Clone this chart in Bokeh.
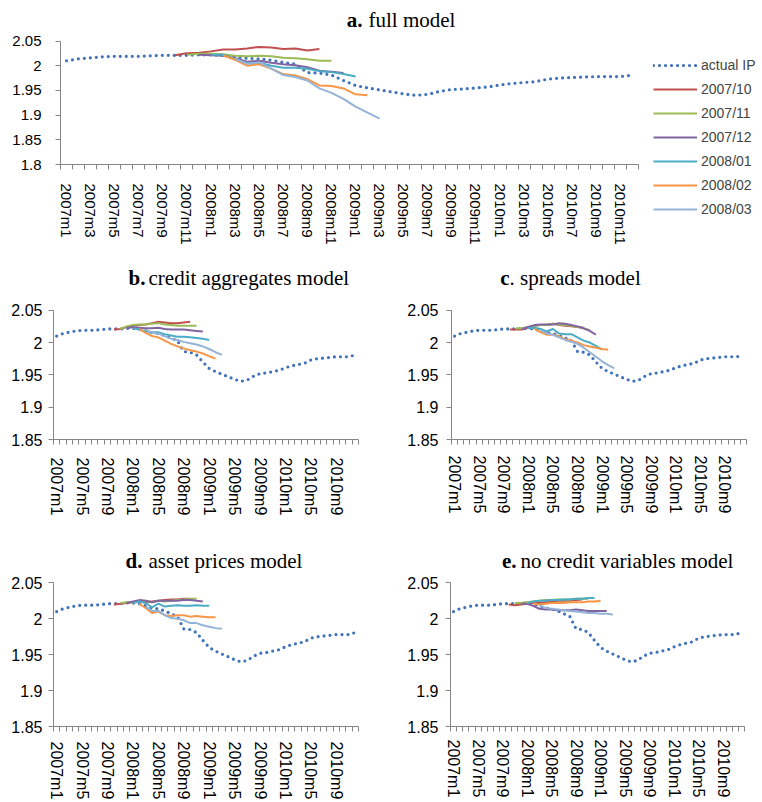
from bokeh.plotting import figure
from bokeh.models import Range1d, FixedTicker, CustomJSTickFormatter, Label, Legend, LegendItem
from bokeh.layouts import column, row
from bokeh.embed import file_html
from bokeh.resources import INLINE

# ---------------- data ----------------
YEARS = [2007, 2008, 2009, 2010]
MONTHS = [f"{y}m{m}" for y in YEARS for m in range(1, 13)]

ACTUAL_IP = [
    2.010, 2.014, 2.016, 2.018, 2.019, 2.019, 2.019, 2.020, 2.021, 2.021, 2.021, 2.022,
    2.022, 2.021, 2.018, 2.015, 2.014, 2.011, 2.007, 2.003, 1.986, 1.985, 1.981, 1.970,
    1.960, 1.955, 1.951, 1.947, 1.943, 1.940, 1.942, 1.948, 1.952, 1.953, 1.955, 1.957,
    1.961, 1.964, 1.966, 1.968, 1.973, 1.975, 1.976, 1.977, 1.978, 1.978, 1.978, 1.981,
]

VINTAGES = ["2007/10", "2007/11", "2007/12", "2008/01", "2008/02", "2008/03"]
VINTAGE_START = ["2007m10", "2007m11", "2007m12", "2008m1", "2008m2", "2008m3"]
COLORS = ["#C0504D", "#9BBB59", "#8064A2", "#4BACC6", "#F79646", "#95B3D7"]
IP_COLOR = "#3F72B8"

FULL_MODEL = [
    [2.021, 2.025, 2.026, 2.029, 2.033, 2.033, 2.035, 2.038, 2.037, 2.034, 2.035, 2.031, 2.034],
    [2.022, 2.024, 2.024, 2.023, 2.020, 2.019, 2.020, 2.019, 2.016, 2.015, 2.013, 2.010, 2.010],
    [2.022, 2.021, 2.020, 2.015, 2.008, 2.010, 2.006, 2.003, 2.001, 1.997, 1.990, 1.988, 1.985],
    [2.022, 2.022, 2.013, 2.005, 2.006, 2.000, 1.996, 1.996, 1.994, 1.989, 1.987, 1.983, 1.978],
    [2.021, 2.012, 2.000, 2.003, 1.994, 1.983, 1.980, 1.973, 1.960, 1.959, 1.954, 1.942, 1.940],
    [2.014, 2.004, 2.007, 1.994, 1.981, 1.977, 1.970, 1.954, 1.945, 1.933, 1.917, 1.905, 1.893],
]
CREDIT_MODEL = [
    [2.020, 2.021, 2.024, 2.026, 2.027, 2.028, 2.030, 2.032, 2.031, 2.030, 2.030, 2.031, 2.032],
    [2.021, 2.025, 2.027, 2.028, 2.028, 2.029, 2.030, 2.028, 2.027, 2.026, 2.026, 2.026, 2.026],
    [2.022, 2.024, 2.023, 2.022, 2.022, 2.023, 2.021, 2.020, 2.020, 2.020, 2.019, 2.018, 2.017],
    [2.022, 2.020, 2.017, 2.016, 2.016, 2.013, 2.011, 2.009, 2.009, 2.008, 2.007, 2.006, 2.004],
    [2.021, 2.015, 2.010, 2.008, 2.003, 1.998, 1.994, 1.991, 1.988, 1.986, 1.983, 1.979, 1.975],
    [2.020, 2.015, 2.014, 2.010, 2.006, 2.004, 2.001, 1.999, 1.997, 1.994, 1.990, 1.985, 1.981],
]
SPREADS_MODEL = [
    [2.020, 2.020, 2.020, 2.023, 2.026, 2.027, 2.027, 2.029, 2.027, 2.026, 2.025, 2.024, 2.023],
    [2.022, 2.022, 2.024, 2.026, 2.027, 2.027, 2.029, 2.028, 2.027, 2.026, 2.024, 2.022, 2.019],
    [2.021, 2.024, 2.027, 2.028, 2.028, 2.028, 2.030, 2.029, 2.027, 2.025, 2.022, 2.018, 2.012],
    [2.022, 2.023, 2.021, 2.017, 2.021, 2.014, 2.013, 2.013, 2.008, 2.003, 2.000, 1.995, 1.989],
    [2.021, 2.016, 2.012, 2.012, 2.010, 2.005, 2.003, 2.000, 1.996, 1.994, 1.992, 1.990, 1.989],
    [2.019, 2.014, 2.012, 2.008, 2.004, 2.001, 1.998, 1.992, 1.985, 1.978, 1.971, 1.965, 1.960],
]
ASSET_MODEL = [
    [2.020, 2.021, 2.022, 2.023, 2.024, 2.023, 2.024, 2.025, 2.026, 2.027, 2.027, 2.028, 2.028],
    [2.022, 2.023, 2.023, 2.025, 2.025, 2.023, 2.025, 2.024, 2.025, 2.026, 2.027, 2.028, 2.028],
    [2.022, 2.024, 2.026, 2.025, 2.023, 2.025, 2.025, 2.025, 2.025, 2.026, 2.026, 2.025, 2.024],
    [2.022, 2.024, 2.022, 2.016, 2.021, 2.017, 2.018, 2.019, 2.018, 2.018, 2.019, 2.018, 2.018],
    [2.021, 2.015, 2.008, 2.010, 2.005, 2.004, 2.005, 2.005, 2.003, 2.004, 2.003, 2.002, 2.002],
    [2.017, 2.011, 2.011, 2.005, 2.001, 2.000, 1.998, 1.994, 1.994, 1.991, 1.989, 1.987, 1.986],
]
NOCREDIT_MODEL = [
    [2.020, 2.019, 2.020, 2.021, 2.022, 2.022, 2.023, 2.024, 2.025, 2.025, 2.025, 2.026, 2.027],
    [2.022, 2.022, 2.023, 2.024, 2.025, 2.026, 2.026, 2.027, 2.027, 2.027, 2.028, 2.028, 2.028],
    [2.021, 2.021, 2.018, 2.014, 2.013, 2.013, 2.012, 2.012, 2.012, 2.013, 2.012, 2.011, 2.011, 2.011, 2.011],
    [2.022, 2.024, 2.025, 2.025, 2.026, 2.026, 2.027, 2.027, 2.028, 2.028, 2.029, 2.029],
    [2.021, 2.020, 2.021, 2.022, 2.022, 2.022, 2.023, 2.023, 2.023, 2.024, 2.024, 2.025],
    [2.019, 2.015, 2.014, 2.013, 2.012, 2.011, 2.010, 2.009, 2.008, 2.008, 2.007, 2.007, 2.006],
]

Y_TICKS_A = [1.8, 1.85, 1.9, 1.95, 2.0, 2.05]
Y_TICKS_B = [1.85, 1.9, 1.95, 2.0, 2.05]

AXIS_COLOR = "#868686"
TICK_FONT = "Liberation Sans"
TITLE_FONT = "Liberation Serif"


def make_panel(series, width, height, left, right, bottom, axis_px, top_pad,
               yticks, label_step, tick_size, x_standoff, y_standoff, title):
    ymin, ymax = yticks[0], yticks[-1]
    # frame reaches the top of the figure; the room above the axis holds the title
    y_end = ymax + top_pad * (ymax - ymin) / axis_px
    p = figure(width=width, height=height, output_backend="svg", toolbar_location=None,
               x_range=Range1d(-0.5, len(MONTHS) - 0.5),
               y_range=Range1d(ymin, y_end),
               min_border_left=left, min_border_right=right,
               min_border_top=0, min_border_bottom=bottom)
    p.outline_line_color = None
    p.xgrid.visible = False
    p.ygrid.visible = False
    p.background_fill_color = "white"
    p.border_fill_color = "white"

    xs = list(range(len(MONTHS)))
    p.line(xs, ACTUAL_IP, line_color=IP_COLOR, line_width=3.2,
           line_dash="0 6", line_cap="round")
    for start, vals, col in zip(VINTAGE_START, series, COLORS):
        s = MONTHS.index(start)
        p.line(list(range(s, s + len(vals))), vals, line_color=col,
               line_width=2, line_join="round")

    xa = p.xaxis[0]
    xa.ticker = FixedTicker(ticks=list(range(0, len(MONTHS), label_step)),
                            minor_ticks=[i - 0.5 for i in range(len(MONTHS) + 1)])
    xa.formatter = CustomJSTickFormatter(args=dict(months=MONTHS),
                                         code="return months[Math.round(tick)] || '';")
    xa.axis_line_color = AXIS_COLOR
    xa.major_tick_line_color = None
    xa.major_tick_out = 0
    xa.major_tick_in = 0
    xa.minor_tick_line_color = AXIS_COLOR
    xa.minor_tick_out = 5
    xa.minor_tick_in = 0
    xa.major_label_orientation = "vertical"
    xa.major_label_standoff = x_standoff
    xa.major_label_text_font = TICK_FONT
    xa.major_label_text_font_size = tick_size
    xa.major_label_text_color = "black"

    ya = p.yaxis[0]
    ya.bounds = (ymin, ymax)
    ya.ticker = FixedTicker(ticks=yticks)
    ya.formatter = CustomJSTickFormatter(code="return String(Number(tick.toFixed(2)));")
    ya.axis_line_color = AXIS_COLOR
    ya.major_tick_line_color = AXIS_COLOR
    ya.major_tick_out = 5
    ya.major_tick_in = 0
    ya.minor_tick_line_color = None
    ya.major_label_standoff = y_standoff
    ya.major_label_text_font = TICK_FONT
    ya.major_label_text_font_size = tick_size
    ya.major_label_text_color = "black"

    bold, rest, bold_x, rest_x, base_y = title
    p.add_layout(Label(x=bold_x, y=base_y, x_units="screen", y_units="screen", text=bold,
                       text_font=TITLE_FONT, text_font_style="bold", text_font_size="21px",
                       text_align="right", text_baseline="alphabetic", text_color="black"))
    p.add_layout(Label(x=rest_x, y=base_y, x_units="screen", y_units="screen", text=rest,
                       text_font=TITLE_FONT, text_font_size="21px",
                       text_align="left", text_baseline="alphabetic", text_color="black"))
    return p


def legend_fig(width, height, loc):
    p = figure(width=width, height=height, output_backend="svg", toolbar_location=None,
               x_range=Range1d(0, 1), y_range=Range1d(0, 1),
               x_axis_type=None, y_axis_type=None,
               min_border_left=0, min_border_right=0, min_border_top=0, min_border_bottom=0)
    p.outline_line_color = None
    p.xgrid.visible = False
    p.ygrid.visible = False
    p.background_fill_color = "white"
    p.border_fill_color = "white"
    far = [10, 11]
    ip = p.line(far, far, line_color=IP_COLOR, line_width=3.2, line_dash="0 6",
                line_cap="round")
    items = [LegendItem(label="actual IP", renderers=[ip])]
    for v, col in zip(VINTAGES, COLORS):
        r = p.line(far, far, line_color=col, line_width=2)
        items.append(LegendItem(label=v, renderers=[r]))
    lg = Legend(items=items, location=loc, glyph_width=44, glyph_height=20,
                spacing=4, padding=0, margin=0, label_standoff=4,
                label_text_font=TICK_FONT, label_text_font_size="14px",
                border_line_color=None, background_fill_alpha=0)
    p.add_layout(lg)
    return p


# ---------------- panel a ----------------
pa = make_panel(FULL_MODEL, 640, 247, 60, 2, 81, 125, 41,
                Y_TICKS_A, 2, "15px", 14, 14,
                ("a.", "full model", 302, 308, 145))
la = legend_fig(122, 247, (13, 28))

# ---------------- panels b, c ----------------
pb = make_panel(CREDIT_MODEL, 395, 271, 53, 37, 72, 134, 65,
                Y_TICKS_B, 4, "16px", 13, 6,
                ("b.", "credit aggregates model", 92, 95, 162))
pc = make_panel(SPREADS_MODEL, 367, 271, 56, 16, 72, 134, 65,
                Y_TICKS_B, 4, "16px", 11, 8,
                ("c", ". spreads model", 58, 58, 162))

# ---------------- panels d, e ----------------
pd = make_panel(ASSET_MODEL, 395, 284, 53, 37, 74, 145, 65,
                Y_TICKS_B, 4, "16px", 10, 6,
                ("d.", "asset prices model", 89, 95, 166))
pe = make_panel(NOCREDIT_MODEL, 367, 284, 55, 18, 74, 145, 65,
                Y_TICKS_B, 4, "16px", 8, 7,
                ("e.", "no credit variables model", 66, 70, 166))

layout = column(row(column(pa), la), row(pb, pc), row(pd, pe))
open("out.html", "w").write(file_html(layout, INLINE))
